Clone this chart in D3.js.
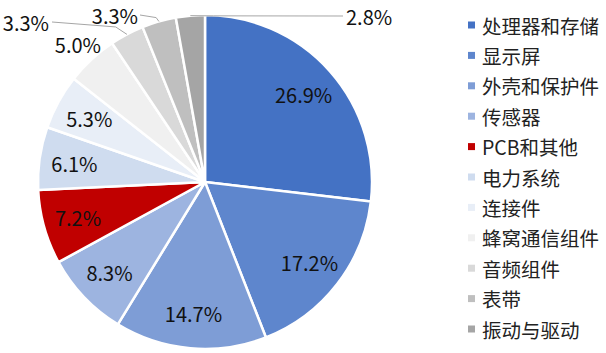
<!DOCTYPE html>
<html>
<head>
<meta charset="utf-8">
<script src="https://cdn.jsdelivr.net/npm/d3@7"></script>
<style>
  body { margin: 0; background: #fff; }
  text { font-family: "Noto Sans CJK SC", "Noto Sans", sans-serif; }
</style>
</head>
<body>
<div id="chart"></div>
<script>
// ==========================
// Data
// ==========================
const categories = ["处理器和存储", "显示屏", "外壳和保护件", "传感器", "PCB和其他",
  "电力系统", "连接件", "蜂窝通信组件", "音频组件", "表带", "振动与驱动"];
const shares = [26.9, 17.2, 14.7, 8.3, 7.2, 6.1, 5.3, 5.0, 3.3, 3.3, 2.8];
const colors = ["#4472C4", "#5E86CD", "#7E9DD6", "#9DB4E0", "#C00000", "#CFDCEF",
  "#E8EEF7", "#F0F0F0", "#D9D9D9", "#BFBFBF", "#A5A5A5"];

// ==========================
// Dimensions
// ==========================
const width = 606;
const height = 353;
const cx = 205;
const cy = 182;
const radius = 167;

const svg = d3.select("#chart")
  .append("svg")
  .attr("width", width)
  .attr("height", height);

const pie = d3.pie().sort(null).value(d => d);
const arcs = pie(shares);

const arc = d3.arc().innerRadius(0).outerRadius(radius);
const g = svg.append("g").attr("transform", `translate(${cx},${cy})`);

// Slices
g.selectAll("path.slice")
  .data(arcs)
  .enter()
  .append("path")
  .attr("class", "slice")
  .attr("d", arc)
  .attr("fill", (d, i) => colors[i])
  .attr("stroke", "#fff")
  .attr("stroke-width", 2.5)
  .attr("stroke-linejoin", "round");

// ==========================
// Labels
// ==========================
const fmt = v => v.toFixed(1) + "%";
const labelSize = 20;
const inner = d3.arc().innerRadius(radius * 0.79).outerRadius(radius * 0.79);
const outer = d3.arc().innerRadius(radius * 1.12).outerRadius(radius * 1.12);

arcs.forEach((d, i) => {
  if (i <= 6) {
    const [x, y] = inner.centroid(d);
    g.append("text")
      .attr("x", x).attr("y", y)
      .attr("text-anchor", "middle")
      .attr("dominant-baseline", "central")
      .attr("font-size", labelSize)
      .attr("fill", "#111")
      .text(fmt(shares[i]));
  } else if (i === 7) {
    const [x, y] = outer.centroid(d);
    g.append("text")
      .attr("x", x).attr("y", y)
      .attr("text-anchor", "middle")
      .attr("dominant-baseline", "central")
      .attr("font-size", labelSize)
      .attr("fill", "#111")
      .text(fmt(shares[i]));
  }
});

// Leader-line labels for the thin slices
const leaders = [
  { i: 8, lx: -153, ly: -160, tx: -156 },
  { i: 9, lx: -65, ly: -167, tx: -67 },
  { i: 10, lx: 138, ly: -166, tx: 141 }
];
leaders.forEach(l => {
  const d = arcs[l.i];
  const a = (d.startAngle + d.endAngle) / 2;
  const px = radius * Math.sin(a);
  const py = -radius * Math.cos(a);
  const anchor = l.lx < 0 ? "end" : "start";
  g.append("polyline")
    .attr("points", `${px},${py} ${px + (l.lx - px) * 0.15},${py + (l.ly - py) * 0.6} ${l.lx},${l.ly}`)
    .attr("fill", "none")
    .attr("stroke", "#a6a6a6")
    .attr("stroke-width", 1);
  g.append("text")
    .attr("x", l.tx).attr("y", l.ly)
    .attr("text-anchor", anchor)
    .attr("dominant-baseline", "central")
    .attr("font-size", labelSize)
    .attr("fill", "#111")
    .text(fmt(shares[l.i]));
});

// ==========================
// Legend
// ==========================
const legend = svg.append("g").attr("transform", "translate(468, 25)");
const items = legend.selectAll("g.item")
  .data(categories)
  .enter()
  .append("g")
  .attr("class", "item")
  .attr("transform", (d, i) => `translate(0, ${i * 30.4})`);

items.append("rect")
  .attr("x", 0).attr("y", -3.5)
  .attr("width", 7).attr("height", 7)
  .attr("fill", (d, i) => colors[i]);

items.append("text")
  .attr("x", 14)
  .attr("y", 0)
  .attr("dominant-baseline", "central")
  .attr("font-size", 19.5)
  .attr("fill", "#222")
  .text(d => d);
</script>
</body>
</html>
